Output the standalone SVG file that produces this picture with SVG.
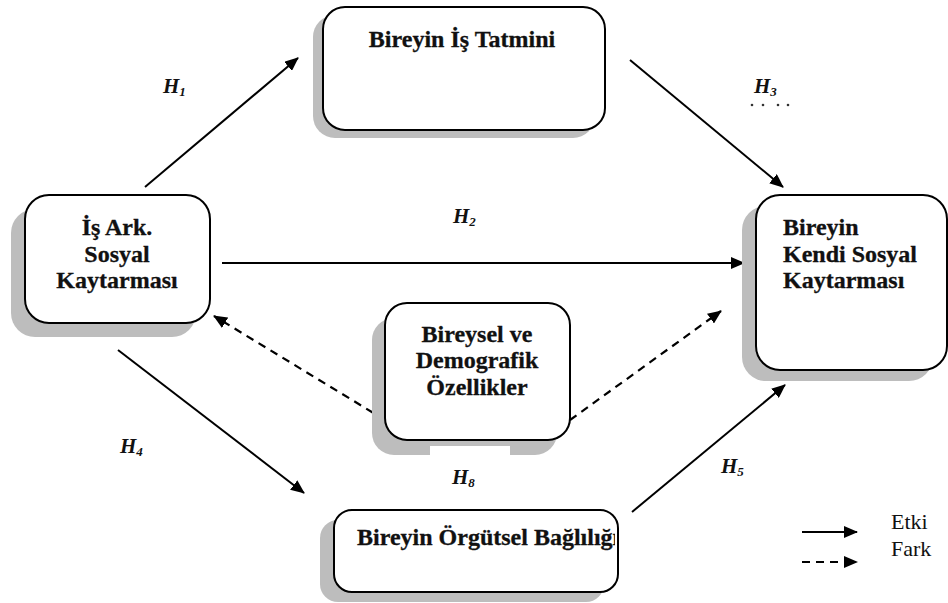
<svg xmlns="http://www.w3.org/2000/svg" width="948" height="603" viewBox="0 0 948 603">
<defs>
<marker id="ah" viewBox="0 0 14 12" refX="13" refY="6" markerWidth="14" markerHeight="12" orient="auto" markerUnits="userSpaceOnUse">
<path d="M0,0 L14,6 L0,12 Z" fill="#000"/>
</marker>
<clipPath id="clipB"><rect x="334" y="510" width="281" height="82"/></clipPath>
</defs>
<style>
.box{fill:#fff;stroke:#000;stroke-width:2}
.sh{fill:#bdbdbd}
.t{font-family:"Liberation Serif","Times New Roman",serif;font-weight:bold;font-size:24px;fill:#111;stroke:#111;stroke-width:0.3}
.h{font-family:"Liberation Serif","Times New Roman",serif;font-weight:bold;font-style:italic;font-size:21px;fill:#111}
.sub{font-size:13px}
.lg{font-family:"Liberation Serif","Times New Roman",serif;font-size:22px;fill:#111}
.c{stroke:#000;stroke-width:2;fill:none}
.d{stroke:#000;stroke-width:2.2;fill:none;stroke-dasharray:8 6}
</style>
<rect width="948" height="603" fill="#fff"/>

<g id="connectors">
<line class="c" x1="145" y1="187" x2="298" y2="58" marker-end="url(#ah)"/>
<line class="c" x1="630" y1="60" x2="783" y2="187" marker-end="url(#ah)"/>
<line class="c" x1="222" y1="263" x2="744" y2="263" marker-end="url(#ah)"/>
<line class="d" x1="385" y1="420" x2="214" y2="316" marker-end="url(#ah)"/>
<line class="d" x1="570" y1="420" x2="721" y2="311" marker-end="url(#ah)"/>
<line class="c" x1="118" y1="350" x2="304" y2="493" marker-end="url(#ah)"/>
<line class="c" x1="632" y1="512" x2="785" y2="385" marker-end="url(#ah)"/>
</g>

<g id="n-tatmin">
<rect class="sh" x="313" y="15" width="282" height="123" rx="22"/>
<rect class="box" x="323" y="7" width="282" height="123" rx="22"/>
<text class="t" x="462" y="47" text-anchor="middle">Bireyin İş Tatmini</text>
</g>

<g id="n-isark">
<rect class="sh" x="11" y="209" width="185" height="128" rx="24"/>
<rect class="box" x="25" y="195" width="185" height="128" rx="24"/>
<text class="t" text-anchor="middle"><tspan x="117" y="235">İş Ark.</tspan><tspan x="117" y="262">Sosyal</tspan><tspan x="117" y="288">Kaytarması</tspan></text>
</g>

<g id="n-kendi">
<rect class="sh" x="742" y="206" width="191" height="175" rx="24"/>
<rect class="box" x="756" y="195" width="191" height="175" rx="24"/>
<text class="t"><tspan x="783" y="235">Bireyin</tspan><tspan x="783" y="262">Kendi Sosyal</tspan><tspan x="783" y="288">Kaytarması</tspan></text>
</g>

<g id="n-bireysel">
<rect class="sh" x="372" y="318" width="185" height="137" rx="22"/>
<rect x="430" y="446" width="80" height="12" fill="#fff"/>
<rect class="box" x="385" y="303" width="185" height="137" rx="22"/>
<text class="t" text-anchor="middle"><tspan x="477" y="342">Bireysel ve</tspan><tspan x="477" y="368">Demografik</tspan><tspan x="477" y="395">Özellikler</tspan></text>
</g>

<g id="n-orgutsel">
<rect class="sh" x="320" y="520" width="284" height="82" rx="18"/>
<rect class="box" x="334" y="510" width="284" height="82" rx="18"/>
<text class="t" x="357" y="545" clip-path="url(#clipB)">Bireyin Örgütsel Bağlılığı</text>
</g>

<g id="labels">
<text class="h" x="163" y="93">H<tspan class="sub" dy="3">1</tspan></text>
<text class="h" x="453" y="223">H<tspan class="sub" dy="3">2</tspan></text>
<text class="h" x="754" y="93">H<tspan class="sub" dy="3">3</tspan></text>
<text class="h" x="120" y="453">H<tspan class="sub" dy="3">4</tspan></text>
<text class="h" x="721" y="473">H<tspan class="sub" dy="3">5</tspan></text>
<text class="h" x="452" y="484">H<tspan class="sub" dy="3">8</tspan></text>
<g fill="#333">
<circle cx="752" cy="105" r="1.3"/>
<circle cx="763" cy="105" r="1.3"/>
<circle cx="778" cy="105" r="1.3"/>
<circle cx="788" cy="105" r="1.3"/>
</g>
</g>

<g id="legend">
<line class="c" x1="802" y1="532" x2="857" y2="532" marker-end="url(#ah)"/>
<line class="d" x1="802" y1="562" x2="857" y2="562" stroke-dasharray="7 5" marker-end="url(#ah)"/>
<text class="lg" x="891" y="529">Etki</text>
<text class="lg" x="891" y="556">Fark</text>
</g>
</svg>
